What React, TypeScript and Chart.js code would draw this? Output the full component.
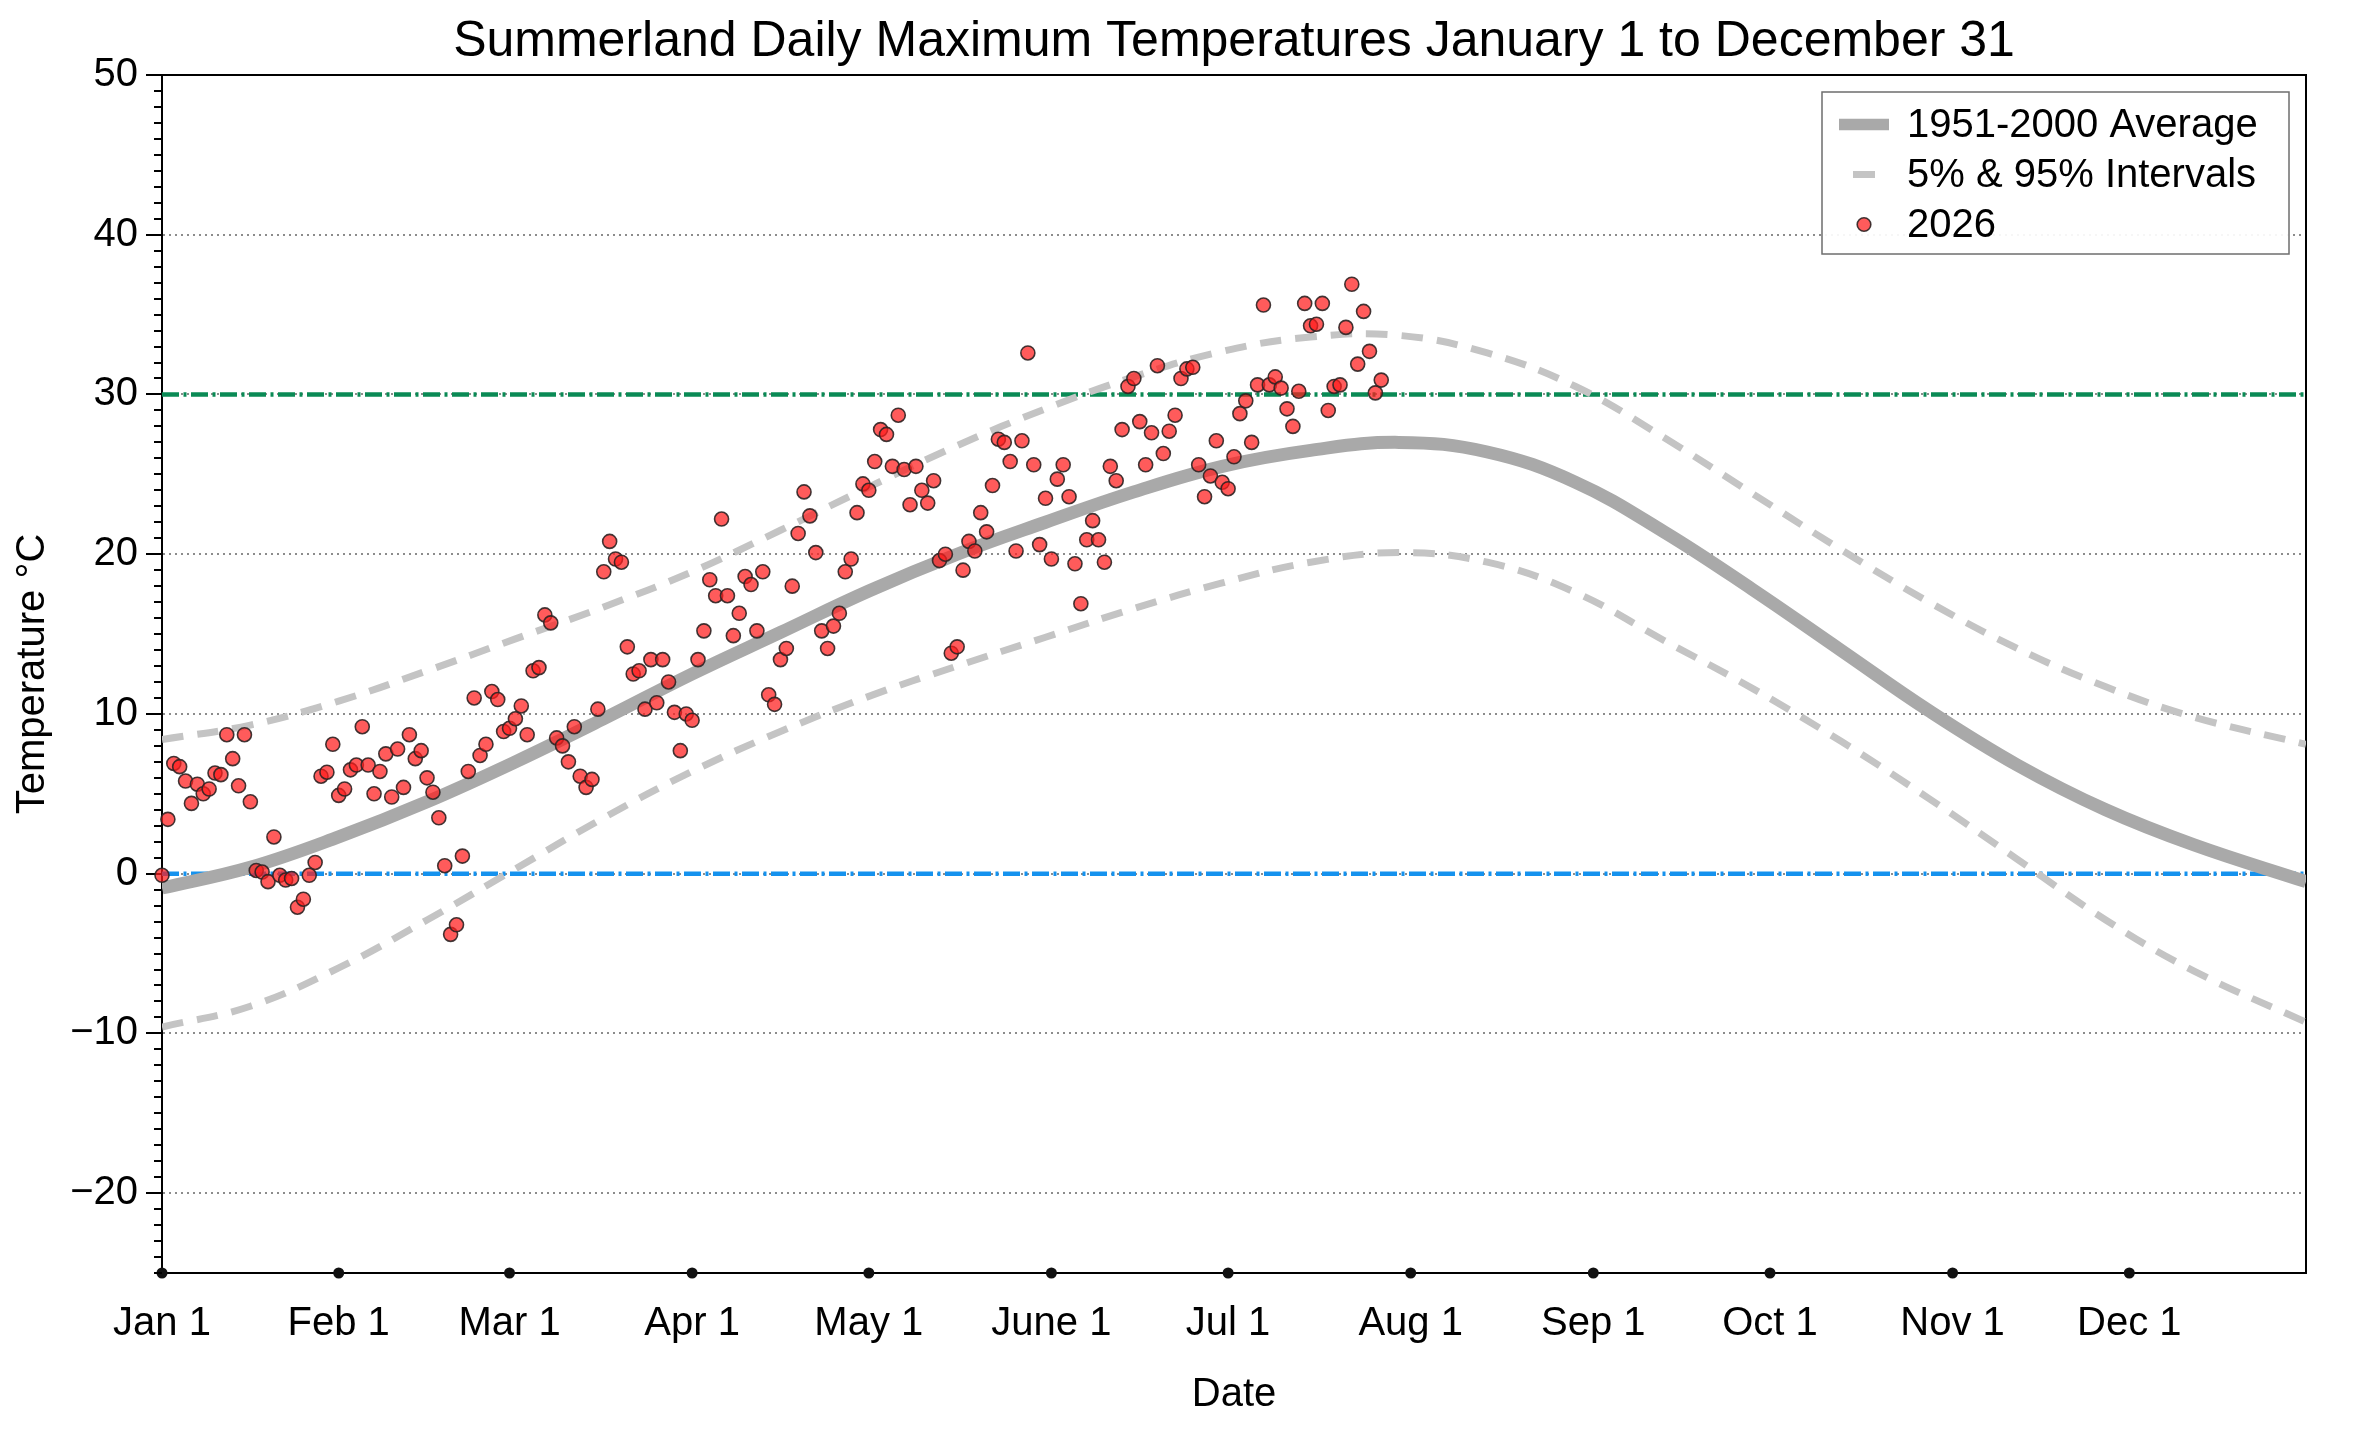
import React, { useEffect, useRef } from "react";
import { Chart, registerables, type ChartConfiguration, type Plugin } from "chart.js";

Chart.register(...registerables);

const FONT = "'Liberation Sans', Arial, Helvetica, sans-serif";
const TITLE = "Summerland Daily Maximum Temperatures January 1 to December 31";

// day of year (0 = Jan 1) for each month label on the x axis
const monthTickDays = [0, 30, 59, 90, 120, 151, 181, 212, 243, 273, 304, 334];
const monthLabels = [
  "Jan 1", "Feb 1", "Mar 1", "Apr 1", "May 1", "June 1",
  "Jul 1", "Aug 1", "Sep 1", "Oct 1", "Nov 1", "Dec 1",
];

const tempTicks = [-20, -10, 0, 10, 20, 30, 40, 50];

// 1951-2000 climatology, every ~15 days
const curveDays = [0, 15, 30, 45, 60, 75, 90, 105, 120, 135, 150, 165, 180, 195, 210, 225, 240, 255, 270, 285, 300, 315, 330, 345, 364];
const avgTemps = [-0.9, 0.4, 2.3, 4.5, 7.0, 9.7, 12.5, 15.1, 17.7, 20.0, 22.0, 23.9, 25.5, 26.5, 27.0, 26.4, 24.5, 21.4, 17.8, 14.0, 10.2, 6.8, 4.0, 1.8, -0.5];
const p95Temps = [8.4, 9.3, 10.8, 12.7, 14.7, 16.7, 18.9, 21.5, 24.2, 26.8, 29.1, 31.1, 32.7, 33.6, 33.7, 32.6, 30.5, 27.3, 23.8, 20.3, 17.0, 14.1, 11.7, 9.8, 8.1];
const p5Temps = [-9.6, -8.3, -5.9, -2.9, 0.3, 3.5, 6.4, 8.9, 11.1, 13.0, 14.8, 16.6, 18.2, 19.5, 20.1, 19.5, 17.6, 14.6, 11.6, 8.3, 4.7, 0.9, -2.9, -6.1, -9.3];

const hotLine = 30;
const freezeLine = 0;

// 2026 daily maximums, one value per day from Jan 1
const obs2026 = [
  -0.1, 3.4, 6.9, 6.7, 5.8, 4.4, 5.6, 5.0, 5.3, 6.3, 6.2, 8.7, 7.2, 5.5, 8.7, 4.5,
  0.2, 0.1, -0.5, 2.3, -0.1, -0.4, -0.3, -2.1, -1.6, -0.1, 0.7, 6.1, 6.35, 8.1, 4.9, 5.3,
  6.5, 6.8, 9.2, 6.8, 5.0, 6.4, 7.5, 4.8, 7.8, 5.4, 8.7, 7.2, 7.7, 6.0, 5.1, 3.5,
  0.5, -3.8, -3.2, 1.1, 6.4, 11.0, 7.4, 8.1, 11.4, 10.9, 8.9, 9.1, 9.7, 10.5, 8.7, 12.7,
  12.9, 16.2, 15.7, 8.5, 8.0, 7.0, 9.2, 6.1, 5.4, 5.9, 10.3, 18.9, 20.8, 19.7, 19.5, 14.2,
  12.5, 12.7, 10.3, 13.4, 10.7, 13.4, 12.0, 10.1, 7.7, 10.0, 9.6, 13.4, 15.2, 18.4, 17.4, 22.2,
  17.4, 14.9, 16.3, 18.6, 18.1, 15.2, 18.9, 11.2, 10.6, 13.4, 14.1, 18.0, 21.3, 23.9, 22.4, 20.1,
  15.2, 14.1, 15.5, 16.3, 18.9, 19.7, 22.6, 24.4, 24.0, 25.8, 27.8, 27.5, 25.5, 28.7, 25.3, 23.1,
  25.5, 24.0, 23.2, 24.6, 19.6, 20.0, 13.8, 14.2, 19.0, 20.8, 20.2, 22.6, 21.4, 24.3, 27.2, 27.0,
  25.8, 20.2, 27.1, 32.6, 25.6, 20.6, 23.5, 19.7, 24.7, 25.6, 23.6, 19.4, 16.9, 20.9, 22.1, 20.9,
  19.5, 25.5, 24.6, 27.8, 30.5, 31.0, 28.3, 25.6, 27.6, 31.8, 26.3, 27.7, 28.7, 31.0, 31.6, 31.7,
  25.6, 23.6, 24.9, 27.1, 24.5, 24.1, 26.1, 28.8, 29.6, 27.0, 30.6, 35.6, 30.6, 31.1, 30.4, 29.1,
  28.0, 30.2, 35.7, 34.3, 34.4, 35.7, 29.0, 30.5, 30.6, 34.2, 36.9, 31.9, 35.2, 32.7, 30.1, 30.9,
];

const legendOrder = ["1951-2000 Average", "5% & 95% Intervals", "2026"];

const curve = (vals: number[]) => curveDays.map((d, i) => ({ x: d, y: vals[i] }));

// title centred over the plot area rather than the whole canvas
const plotTitlePlugin: Plugin = {
  id: "plotTitle",
  afterDraw(chart) {
    const { ctx, chartArea: a } = chart;
    ctx.save();
    ctx.fillStyle = "#000";
    ctx.font = `50px ${FONT}`;
    ctx.textAlign = "center";
    ctx.textBaseline = "middle";
    ctx.fillText(TITLE, (a.left + a.right) / 2, 42);
    ctx.restore();
  },
};

// black box round the plot area (drawn under the points)
const framePlugin: Plugin = {
  id: "frame",
  beforeDatasetsDraw(chart) {
    const { ctx, chartArea: a } = chart;
    ctx.save();
    ctx.strokeStyle = "#000";
    ctx.lineWidth = 2;
    ctx.strokeRect(a.left, a.top, a.right - a.left, a.bottom - a.top);
    ctx.restore();
  },
};

// 1 degree minor ticks on the y axis
const minorTickPlugin: Plugin = {
  id: "minorTicks",
  afterDraw(chart) {
    const y = chart.scales.y;
    const ctx = chart.ctx;
    ctx.save();
    ctx.strokeStyle = "#000";
    ctx.lineWidth = 2;
    for (let v = Math.ceil(y.min); v < y.max; v++) {
      if (v % 10 === 0) continue;
      const py = Math.round(y.getPixelForValue(v));
      ctx.beginPath();
      ctx.moveTo(y.right - 8, py);
      ctx.lineTo(y.right, py);
      ctx.stroke();
    }
    ctx.restore();
  },
};

// legend box inside the plot, top right
const boxLegendPlugin: Plugin = {
  id: "boxLegend",
  afterDraw(chart) {
    const { ctx, chartArea: a } = chart;
    const w = 467;
    const h = 162;
    const x0 = a.right - 17 - w;
    const y0 = a.top + 17;
    ctx.save();
    ctx.fillStyle = "rgba(255,255,255,0.92)";
    ctx.fillRect(x0, y0, w, h);
    ctx.strokeStyle = "#6e6e6e";
    ctx.lineWidth = 1.5;
    ctx.strokeRect(x0, y0, w, h);

    legendOrder.forEach((label, row) => {
      const ds: any = chart.data.datasets.find((d) => d.label === label);
      if (!ds) return;
      const cy = y0 + 32.5 + row * 50;
      const hx = x0 + 42;
      if (ds.type === "line") {
        const dashed = ds.borderDash && ds.borderDash.length > 0;
        const half = dashed ? 11 : 25;
        ctx.strokeStyle = ds.borderColor;
        ctx.lineWidth = dashed ? ds.borderWidth : ds.borderWidth * 0.9;
        ctx.lineCap = "butt";
        ctx.beginPath();
        ctx.moveTo(hx - half, cy);
        ctx.lineTo(hx + half, cy);
        ctx.stroke();
      } else {
        ctx.beginPath();
        ctx.arc(hx, cy, 6.8, 0, Math.PI * 2);
        ctx.fillStyle = ds.backgroundColor;
        ctx.fill();
        ctx.lineWidth = ds.borderWidth;
        ctx.strokeStyle = ds.borderColor;
        ctx.stroke();
      }
      ctx.fillStyle = "#000";
      ctx.font = `40px ${FONT}`;
      ctx.textAlign = "left";
      ctx.textBaseline = "middle";
      ctx.fillText(label, x0 + 85, cy + 1);
    });
    ctx.restore();
  },
};

export default function App() {
  const canvasRef = useRef<HTMLCanvasElement | null>(null);

  useEffect(() => {
    document.body.style.margin = "0";
    if (!canvasRef.current) return;

    Chart.defaults.font.family = FONT;
    Chart.defaults.color = "#000";

    const config: ChartConfiguration<"scatter"> = {
      type: "scatter",
      data: {
        datasets: [
          {
            type: "scatter",
            label: "2026",
            data: obs2026.map((v, i) => ({ x: i, y: v })),
            backgroundColor: "rgba(255,28,28,0.72)",
            borderColor: "rgba(45,35,35,0.9)",
            borderWidth: 1.6,
            pointRadius: 7,
            clip: false,
            order: 0,
          },
          {
            type: "scatter",
            label: "month ticks",
            data: monthTickDays.map((d) => ({ x: d, y: -25 })),
            backgroundColor: "#111",
            borderWidth: 0,
            pointRadius: 5.5,
            clip: false,
            order: 1,
          },
          {
            type: "line",
            label: "1951-2000 Average",
            data: curve(avgTemps),
            borderColor: "#a9a9a9",
            borderWidth: 13,
            pointRadius: 0,
            tension: 0.4,
            fill: false,
            order: 2,
          } as any,
          {
            type: "line",
            label: "5% & 95% Intervals",
            data: curve(p95Temps),
            borderColor: "#c4c4c4",
            borderWidth: 7,
            borderDash: [21.5, 14],
            pointRadius: 0,
            tension: 0.4,
            fill: false,
            order: 3,
          } as any,
          {
            type: "line",
            label: "5% Interval",
            data: curve(p5Temps),
            borderColor: "#c4c4c4",
            borderWidth: 7,
            borderDash: [21.5, 14],
            pointRadius: 0,
            tension: 0.4,
            fill: false,
            order: 3,
          } as any,
          {
            type: "line",
            label: "30 C",
            data: [{ x: 0, y: hotLine }, { x: 364, y: hotLine }],
            borderColor: "#0a8a55",
            borderWidth: 4.5,
            borderDash: [17, 4.5, 3, 4.5],
            pointRadius: 0,
            order: 4,
          } as any,
          {
            type: "line",
            label: "0 C",
            data: [{ x: 0, y: freezeLine }, { x: 364, y: freezeLine }],
            borderColor: "#1592ee",
            borderWidth: 4.5,
            borderDash: [17, 4.5, 3, 4.5],
            pointRadius: 0,
            order: 4,
          } as any,
        ],
      },
      options: {
        responsive: false,
        devicePixelRatio: 1,
        animation: false,
        events: [],
        layout: { padding: { left: 0, right: 54, top: 75, bottom: 0 } },
        plugins: {
          legend: { display: false },
          tooltip: { enabled: false },
          title: { display: false },
        },
        scales: {
          x: {
            type: "linear",
            min: 0,
            max: 364,
            afterBuildTicks: (scale) => {
              scale.ticks = monthTickDays.map((d) => ({ value: d }));
            },
            afterFit: (scale) => {
              scale.height = 159;
            },
            ticks: {
              autoSkip: false,
              maxRotation: 0,
              padding: 19,
              font: { size: 40, family: FONT },
              color: "#000",
              callback: (value) => monthLabels[monthTickDays.indexOf(Number(value))] ?? "",
            },
            grid: { display: false },
            border: { display: true, color: "#000", width: 2 },
            title: {
              display: true,
              text: "Date",
              color: "#000",
              font: { size: 40, family: FONT },
              padding: { top: 0, bottom: 13 },
            },
          },
          y: {
            type: "linear",
            min: -25,
            max: 50,
            afterBuildTicks: (scale) => {
              scale.ticks = tempTicks.map((v) => ({ value: v }));
            },
            afterFit: (scale) => {
              scale.width = 162;
            },
            ticks: {
              padding: 8,
              font: { size: 40, family: FONT },
              color: "#000",
              callback: (value) => {
                const v = Number(value);
                return v < 0 ? "\u2212" + Math.abs(v) : String(v);
              },
            },
            grid: {
              color: "#8c8c8c",
              lineWidth: 2,
              drawTicks: true,
              tickLength: 16,
              tickColor: "#000",
              tickWidth: 2,
            },
            border: { display: true, color: "#000", width: 2, dash: [2, 4] },
            title: {
              display: true,
              text: "Temperature \u00B0C",
              color: "#000",
              font: { size: 40, family: FONT },
              padding: { top: 9, bottom: 0 },
            },
          },
        },
      },
      plugins: [framePlugin, minorTickPlugin, boxLegendPlugin, plotTitlePlugin],
    };

    const chart = new Chart(canvasRef.current, config);
    return () => {
      chart.destroy();
    };
  }, []);

  return (
    <div style={{ width: 2360, height: 1432, background: "#fff" }}>
      <canvas ref={canvasRef} width={2360} height={1432} style={{ display: "block" }} aria-label="Summerland daily maximum temperatures" />
    </div>
  );
}
